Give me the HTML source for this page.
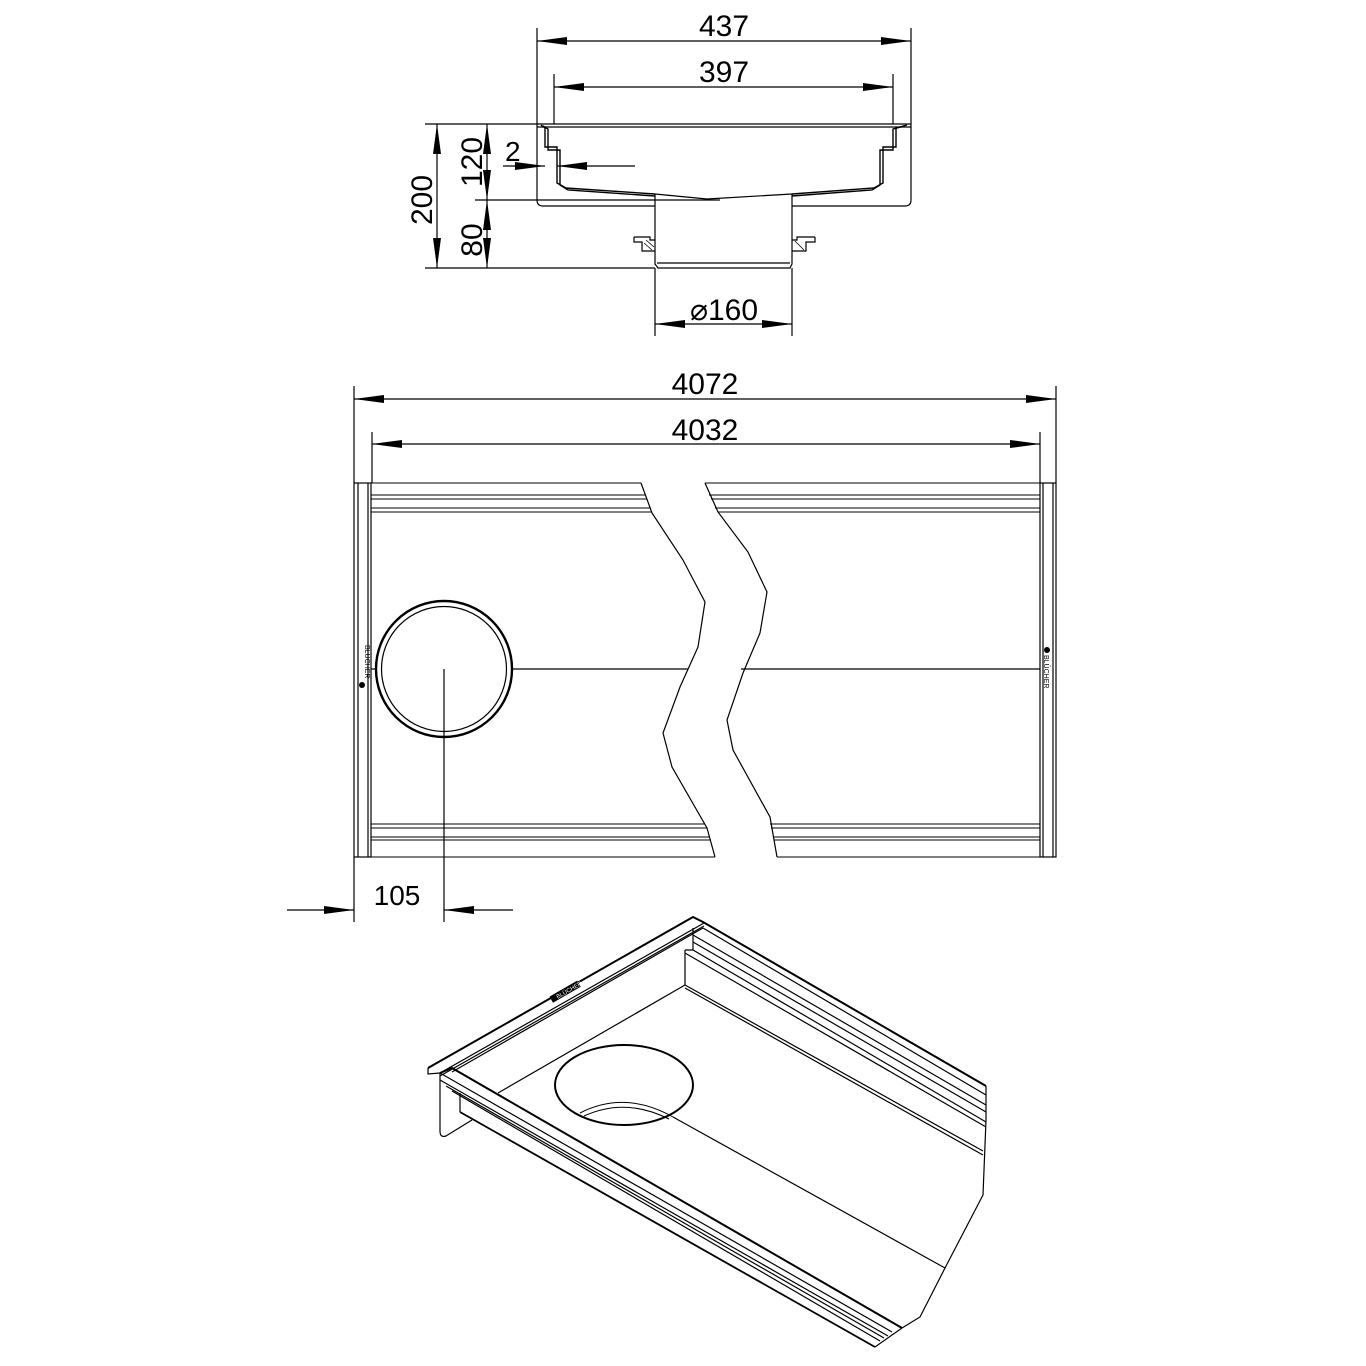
<!DOCTYPE html>
<html><head><meta charset="utf-8"><style>
html,body{margin:0;padding:0;background:#fff}
svg{display:block}
text{font-family:"Liberation Sans Narrow","Liberation Sans",sans-serif;fill:#000}
</style></head><body>
<svg width="1366" height="1366" viewBox="0 0 1366 1366" xmlns="http://www.w3.org/2000/svg">
<defs>
<marker id="a" markerWidth="30" markerHeight="10" refX="30" refY="5" orient="auto-start-reverse" markerUnits="userSpaceOnUse"><path d="M0,1 L30,5 L0,9 Z" fill="#000"/></marker>
</defs>
<g stroke="#000" fill="none" stroke-width="1.2">
<line x1="537" y1="28" x2="537" y2="124"/><line x1="911" y1="28" x2="911" y2="124"/>
<line x1="537" y1="41" x2="911" y2="41" marker-start="url(#a)" marker-end="url(#a)"/>
<line x1="554" y1="74" x2="554" y2="124"/><line x1="893" y1="74" x2="893" y2="124"/>
<line x1="554" y1="87" x2="893" y2="87" marker-start="url(#a)" marker-end="url(#a)"/>
<path d="M537,124 L911,124 M537,127 L911,127"/>
<path d="M537,124 L537,200 Q537,206 543,206 L655,206 M792,206 L905,206 Q911,206 911,200 L911,124"/>
<path d="M541,125 L545,128 L545,147 L557,147 L557,183 L566,188 L655,194 M543,126 L548,129 L548,150 L560,150 L560,185 L568,190 L655,196" stroke-width="1.4"/>
<path d="M907,125 L896,128 L896,147 L883,147 L883,183 L874,188 L792,194 M905,126 L893,129 L893,150 L880,150 L880,185 L872,190 L792,196" stroke-width="1.4"/>
<path d="M655,194 L707,199 L792,194"/>
<path d="M655,194 L655,264 L658,268 L790,268 L792,264 L792,194"/>
<line x1="657" y1="263" x2="790" y2="263"/>
<path d="M634,237 L650,237 L650,240 L655,240 M634,237 L634,242 L642,242 L642,251 L655,251" />
<path d="M815,237 L797,237 L797,240 L792,240 M815,237 L815,242 L806,242 L806,251 L792,251" />
<path d="M644,243 L652,250 M646,240 L654,247 M797,243 L804,250 M795,241 L802,248" stroke-width="0.8"/>
<line x1="425" y1="124" x2="537" y2="124"/>
<line x1="475" y1="200" x2="720" y2="200"/>
<line x1="425" y1="268" x2="655" y2="268"/>
<line x1="437" y1="124" x2="437" y2="268" marker-start="url(#a)" marker-end="url(#a)"/>
<line x1="487" y1="124" x2="487" y2="200" marker-start="url(#a)" marker-end="url(#a)"/>
<line x1="487" y1="200" x2="487" y2="268" marker-start="url(#a)" marker-end="url(#a)"/>
<line x1="503" y1="166" x2="545" y2="166" marker-end="url(#a)"/>
<line x1="635" y1="166" x2="557" y2="166" marker-end="url(#a)"/>
<line x1="655" y1="268" x2="655" y2="336"/><line x1="792" y1="268" x2="792" y2="336"/>
<line x1="655" y1="324" x2="792" y2="324" marker-start="url(#a)" marker-end="url(#a)"/>

<line x1="354" y1="386" x2="354" y2="483"/><line x1="1056" y1="386" x2="1056" y2="483"/>
<line x1="354" y1="399" x2="1056" y2="399" marker-start="url(#a)" marker-end="url(#a)"/>
<line x1="372" y1="432" x2="372" y2="483"/><line x1="1040" y1="432" x2="1040" y2="483"/>
<line x1="372" y1="444" x2="1040" y2="444" marker-start="url(#a)" marker-end="url(#a)"/>
<rect x="354" y="483" width="17" height="374"/>
<line x1="358" y1="483" x2="358" y2="857"/><line x1="368" y1="483" x2="368" y2="857"/>
<rect x="1040" y="483" width="16" height="374"/>
<line x1="1043" y1="483" x2="1043" y2="857"/><line x1="1053" y1="483" x2="1053" y2="857"/>
<g stroke-width="1">
<path d="M371,483 L641,483 M371,495 L645,495 M371,499 L647,499 M371,508 L650,508 M371,512 L652,512"/>
<path d="M371,824 L705,824 M371,828 L707,828 M371,837 L710,837 M371,840 L711,840 M371,857 L715,857"/>
<path d="M705,483 L1040,483 M709,495 L1040,495 M711,499 L1040,499 M715,508 L1040,508 M718,512 L1040,512"/>
<path d="M770,824 L1040,824 M771,828 L1040,828 M773,837 L1040,837 M774,840 L1040,840 M777,857 L1040,857"/>
</g>
<path d="M641,483 L652,513 L683,560 L705,602 L698,647 L680,687 L663,733 L672,767 L707,828 L715,857"/>
<path d="M705,483 L718,512 L748,552 L767,592 L760,633 L743,673 L727,720 L733,750 L770,817 L777,857"/>
<line x1="371" y1="669" x2="375" y2="669"/>
<line x1="513" y1="669" x2="688" y2="669"/>
<line x1="741" y1="669" x2="1040" y2="669"/>
<circle cx="444" cy="669" r="68" stroke-width="2.4"/>
<circle cx="444" cy="669" r="62.5"/>
<line x1="444" y1="669" x2="444" y2="922"/>
<line x1="354" y1="857" x2="354" y2="922"/>
<line x1="287" y1="910" x2="354" y2="910" marker-end="url(#a)"/>
<line x1="513" y1="910" x2="444" y2="910" marker-end="url(#a)"/>

<path d="M428,1068 L693,917 L703,922 L986,1086" stroke-width="2"/>
<path d="M428,1068 L428,1074 L440,1073 L704,923"/>
<path d="M440,1076 L704,926"/>
<path d="M452,1072 L703,928"/>
<path d="M693,928 L693,950"/>
<path d="M703,928 L986,1095 M693,935 L986,1105 M693,942 L986,1112"/>
<path d="M685,950 L693,950 L986,1122 M685,953 L986,1127"/>
<path d="M685,950 L685,985"/>
<path d="M685,985 L983,1151 M685,988 L983,1155"/>
<path d="M685,985 L498,1093"/>
<path d="M986,1086 L986,1120 L983,1195 L945,1268 L920,1317 L902,1328 L875,1347"/>
<path d="M440,1073 L452,1068 L902,1328" stroke-width="2"/>
<path d="M440,1073 L892,1332 M440,1080 L888,1336 M446,1086 L884,1338 M452,1091 L880,1341"/>
<path d="M460,1112 L875,1347" stroke-width="1.8"/>
<path d="M460,1093 L460,1112"/>
<path d="M440,1073 L440,1131 Q440,1138 446,1136 L472,1120"/>
<path d="M673,1117 L945,1268"/>
<ellipse cx="624" cy="1085" rx="69" ry="40" stroke-width="2"/>
<path d="M580,1113 Q625,1090 673,1117" stroke-width="1"/>
<path d="M584,1116 Q625,1097 669,1119" stroke-width="1"/>
</g>
<rect x="359" y="640" width="8" height="46" fill="#fff" stroke="none"/>
<circle cx="362" cy="685" r="3" fill="#000"/>
<text x="0" y="0" font-size="7" transform="translate(365,645) rotate(90)">BLÜCHER</text>
<circle cx="1047" cy="650" r="3" fill="#000"/>
<text x="0" y="0" font-size="7" transform="translate(1044,655) rotate(90)">BLÜCHER</text>
<g transform="translate(552,1001) rotate(-30)"><rect x="0" y="-5" width="32" height="7" fill="#000"/><text x="6" y="1" font-size="6" style="fill:#fff">BLÜCHER</text></g>
<g font-size="30">
<text x="724" y="36" text-anchor="middle">437</text>
<text x="724" y="82" text-anchor="middle">397</text>
<text x="505" y="161" font-size="28">2</text>
<text x="705" y="394" text-anchor="middle">4072</text>
<text x="705" y="440" text-anchor="middle">4032</text>
<text x="397" y="905" text-anchor="middle" font-size="28">105</text>
<text x="724" y="320" text-anchor="middle">⌀160</text>
<text x="0" y="0" text-anchor="middle" transform="translate(432,200) rotate(-90)">200</text>
<text x="0" y="0" text-anchor="middle" transform="translate(482,162) rotate(-90)">120</text>
<text x="0" y="0" text-anchor="middle" transform="translate(482,240) rotate(-90)">80</text>
</g>
</svg>
</body></html>
